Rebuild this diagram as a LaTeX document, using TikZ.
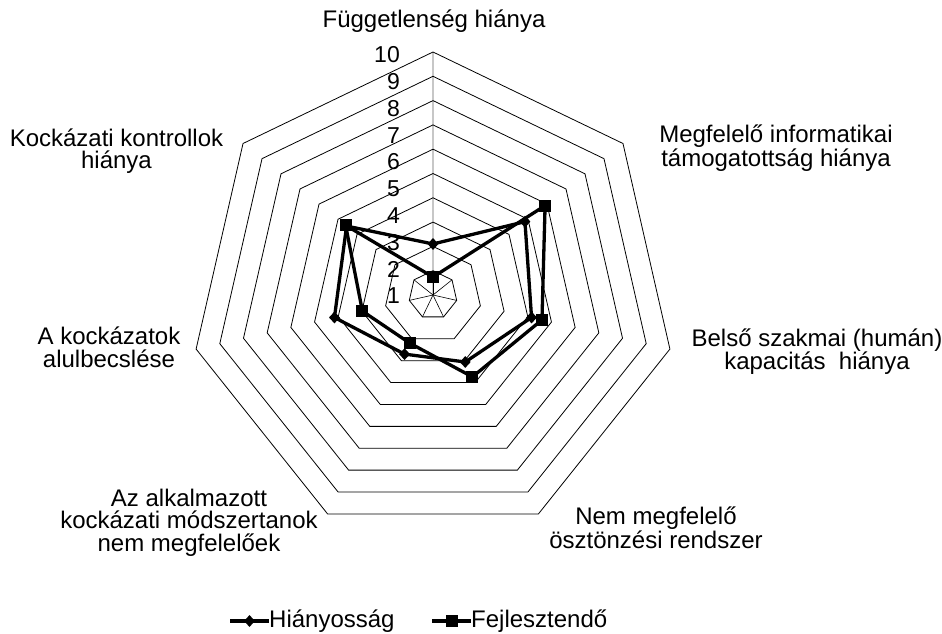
\documentclass[tikz,border=0pt]{standalone}
\usepackage{fontspec}
\setmainfont{Liberation Sans}
\usetikzlibrary{shapes.geometric}
\begin{document}
\begin{tikzpicture}[x=1pt,y=1pt,
  gridline/.style={black,line width=0.8pt,line join=miter},
  spoke/.style={black!22,line width=1.2pt},
  series/.style={black,line width=3.3pt,line join=round},
  dmark/.style={diamond,fill=black,inner sep=0pt,minimum width=11pt,minimum height=12pt},
  smark/.style={rectangle,fill=black,inner sep=0pt,minimum size=12pt},
  lab/.style={font=\fontsize{24}{22.5}\selectfont,align=center,inner sep=0pt},
  num/.style={font=\fontsize{23}{23}\selectfont,anchor=east,inner sep=0pt}]
\useasboundingbox (0,0) rectangle (942,-634);
\fill[white] (0,0) rectangle (942,-634);
\begin{scope}[shift={(433,-295)}]
  \def\u{24.3}
  % spokes
  \draw[spoke] (0,0) -- (90:10*\u);
  \foreach \i in {0,...,6} {
    \draw[black,line width=0.6pt] (0,0) -- ({90-\i*360/7}:\u);
  }
  % grid heptagons
  \foreach \k in {1,...,10} {
    \draw[gridline] (90:\k*\u) \foreach \i in {1,...,6} { -- ({90-\i*360/7}:\k*\u) } -- cycle;
  }
  % data
  \foreach \v [count=\i from 0] in {2.1,4.84,4.16,3.06,2.7,4.16,4.55} {
    \coordinate (h\i) at ({90-\i*360/7}:\v*\u);
  }
  \foreach \v [count=\i from 0] in {0.74,5.9,4.6,3.74,2.2,2.98,4.6} {
    \coordinate (f\i) at ({90-\i*360/7}:\v*\u);
  }
  \draw[series] (h0) -- (h1) -- (h2) -- (h3) -- (h4) -- (h5) -- (h6) -- cycle;
  \draw[series] (f0) -- (f1) -- (f2) -- (f3) -- (f4) -- (f5) -- (f6) -- cycle;
  \foreach \i in {0,...,6} { \node[dmark] (hm\i) at (h\i) {}; }
  \foreach \i in {0,...,6} { \node[smark] (fm\i) at (f\i) {}; }
\end{scope}
% axis numbers
\foreach \k in {1,...,10} {
  \node[num] (n\k) at (400,{-296+26.8*(\k-1)}) {\k};
}
% category labels
\node[lab,anchor=base] (c0) at (434,-27.7) {Függetlenség hiánya};
\node[lab] (c1) at (776,-148.2) {Megfelelő informatikai\\támogatottság hiánya};
\node[lab] (c2) at (817,-351.7) {Belső szakmai (humán)\\kapacitás\ \ hiánya};
\node[lab] (c3) at (656,-527.5) {Nem megfelelő\\ösztönzési rendszer};
\node[lab] (c4) at (189,-522.4) {Az alkalmazott\\kockázati módszertanok\\nem megfelelőek};
\node[lab] (c5) at (109,-347.4) {A kockázatok\\alulbecslése};
\node[lab] (c6) at (116.5,-151.2) {Kockázati kontrollok\\hiánya};
% legend
\coordinate (la) at (230,-621);
\coordinate (lb) at (269,-621);
\draw[series] (la) -- (lb);
\node[dmark] (lgd) at (249.5,-621) {};
\node[lab,anchor=west] (lt1) at (lb) {Hiányosság};
\coordinate (lc) at (432,-621);
\coordinate (ld) at (471,-621);
\draw[series] (lc) -- (ld);
\node[smark] (lgs) at (451.5,-621) {};
\node[lab,anchor=west] (lt2) at (ld) {Fejlesztendő};
\end{tikzpicture}
\end{document}
